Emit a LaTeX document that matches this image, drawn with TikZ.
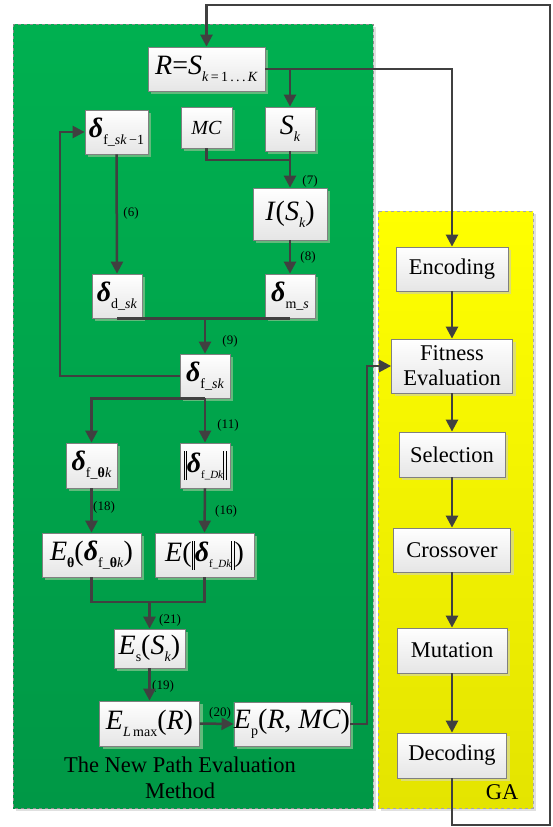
\documentclass[tikz,border=0pt]{standalone}
\usepackage{fontspec}
\setmainfont{Liberation Serif}
\usetikzlibrary{arrows.meta,shadows,calc}
\definecolor{gtop}{RGB}{0,176,80}
\definecolor{gbot}{RGB}{0,152,70}
\definecolor{ytop}{RGB}{255,255,0}
\definecolor{ybot}{RGB}{228,228,0}
\definecolor{gshad}{RGB}{98,186,124}
\definecolor{yshad}{RGB}{222,222,110}
\definecolor{lc}{RGB}{64,64,64}
\newcommand\fm{\fontsize{28}{30}\selectfont}
\newcommand\tx{\fontsize{22.5}{26}\selectfont}
\newcommand\sbx[1]{\raisebox{-7pt}{\fontsize{14}{14}\selectfont #1}}
\newcommand\ssbx[1]{\raisebox{-6pt}{\fontsize{11}{11}\selectfont #1}}
\newcommand\dlt{\textbf{\textit{δ}}}
\newcommand\nb{\rule[-8pt]{0.8pt}{29pt}\hspace{1.6pt}\rule[-8pt]{0.8pt}{29pt}}
\tikzset{
  box/.style={draw=black!50, line width=0.8pt, top color=white, bottom color=black!10, inner sep=0pt},
  gbox/.style={box, font=\fm, drop shadow={shadow xshift=3pt, shadow yshift=-3pt, fill=gshad, opacity=1}},
  ybox/.style={box, font=\tx, align=center, drop shadow={shadow xshift=3pt, shadow yshift=-3pt, fill=yshad, opacity=1}},
  conn/.style={draw=lc, line width=2.5pt},
  arr/.style={conn, -{Triangle[length=12pt,width=12pt]}},
  lab/.style={font=\fontsize{13}{13}\selectfont, inner sep=0pt},
}
\begin{document}
\begin{tikzpicture}[x=1pt,y=-1pt]
\useasboundingbox (0,0) rectangle (553,827);
% panels
\fill[black!12] (16,27) rectangle (376,811);
\shade[top color=gtop, bottom color=gbot, draw=black!45, dashed, line width=0.7pt] (13,24) rectangle (373,808);
\fill[black!12] (381,214) rectangle (536,811);
\shade[top color=ytop, bottom color=ybot, draw=black!35, dashed, line width=0.7pt] (378,211) rectangle (533,808);
% green nodes
\node[gbox, minimum width=117pt, minimum height=44pt] (R) at (206.5,69) {\textit{R}=\textit{S}\sbx{\textit{k}\,=\,1\,.\,.\,.\,\textit{K}}};
\node[gbox, minimum width=63pt, minimum height=44pt] (d1) at (116.5,132) {\dlt\sbx{f\_\textit{sk}\,−1}};
\node[gbox, font=\fontsize{20}{22}\selectfont, minimum width=51pt, minimum height=41pt] (MC) at (206.5,127.5) {\textit{MC}};
\node[gbox, minimum width=50pt, minimum height=44pt] (Sk) at (290,129) {\textit{S}\sbx{\textit{k}}};
\node[gbox, minimum width=74pt, minimum height=52pt] (I) at (290,214) {\textit{I}(\textit{S}\sbx{\textit{k}})};
\node[gbox, minimum width=50pt, minimum height=44pt] (dd) at (117,296) {\dlt\sbx{d\_\textit{sk}}};
\node[gbox, minimum width=50pt, minimum height=44pt] (dm) at (290,296) {\dlt\sbx{m\_\textit{s}}};
\node[gbox, minimum width=50pt, minimum height=44pt] (dfs) at (205,376) {\dlt\sbx{f\_\textit{sk}}};
\node[gbox, minimum width=51pt, minimum height=45pt] (dth) at (91.5,465.5) {\dlt\sbx{f\_\textbf{θ}\textit{k}}};
\node[gbox, minimum width=50pt, minimum height=45pt] (dn) at (205,465.5) {\nb\dlt\ssbx{f\_\textit{Dk}}\nb};
\node[gbox, minimum width=99pt, minimum height=44pt] (Eth) at (91.5,555) {\textit{E}\sbx{\textbf{θ}}(\dlt\sbx{f\_\textbf{θ}\textit{k}})};
\node[gbox, minimum width=99pt, minimum height=44pt] (En) at (204.5,555) {\textit{E}(\nb\dlt\ssbx{f\_\textit{Dk}}\nb)};
\node[gbox, minimum width=71pt, minimum height=39pt] (Es) at (149.5,648.5) {\textit{E}\sbx{s}(\textit{S}\sbx{\textit{k}})};
\node[gbox, minimum width=100pt, minimum height=45pt] (EL) at (149.5,723.5) {\textit{E}\sbx{\textit{L}\,max}(\textit{R})};
\node[gbox, minimum width=100pt, minimum height=44pt] (Ep) at (292,724) {\textit{E}\sbx{p}(\textit{R}, \textit{MC})};
% GA nodes
\node[ybox, minimum width=112pt, minimum height=44pt] (Enc) at (452,269) {Encoding};
\node[ybox, minimum width=121pt, minimum height=54pt, font=\fontsize{22.5}{25}\selectfont] (Fit) at (452,366) {Fitness\\Evaluation};
\node[ybox, minimum width=106pt, minimum height=45pt] (Sel) at (452,454.5) {Selection};
\node[ybox, minimum width=117pt, minimum height=44pt] (Cro) at (452,550) {Crossover};
\node[ybox, minimum width=110pt, minimum height=45pt] (Mut) at (452,650.5) {Mutation};
\node[ybox, minimum width=109pt, minimum height=45pt] (Dec) at (452,755.5) {Decoding};
% texts
\node[font=\tx, align=center, inner sep=0pt] (title) at (180,778) {The New Path Evaluation\\Method};
\node[font=\tx, inner sep=0pt] (ga) at (502,792) {GA};
\node[lab] (l6) at (131,213) {(6)};
\node[lab] (l7) at (310,181) {(7)};
\node[lab] (l8) at (308,257) {(8)};
\node[lab] (l9) at (230,341) {(9)};
\node[lab] (l11) at (228,425) {(11)};
\node[lab] (l18) at (104,507) {(18)};
\node[lab] (l16) at (226,511) {(16)};
\node[lab] (l21) at (170,620) {(21)};
\node[lab] (l19) at (163,686) {(19)};
\node[lab] (l20) at (220,713) {(20)};
% coordinates
\coordinate (mj) at (290,160);
\coordinate (em) at (149.5,602);
\coordinate (c1) at (550,825);
\coordinate (c2) at (550,5);
\coordinate (fb) at (60,376);
\coordinate (ej) at (367,724);
% connectors
\draw[arr] (Dec.south) |- (c1) -- (c2) -| (R.north);
\draw[arr] (R.east) -| (Enc.north);
\draw[arr] (R.east -| Sk.north) -- (Sk.north);
\draw[conn] (MC.south) |- (mj);
\draw[arr] (Sk.south) -- (I.north);
\draw[arr] (I.south) -- (dm.north);
\draw[arr] (d1.south) -- (dd.north);
\draw[conn] (dd.south) -- (dm.south);
\draw[arr] (dd.south -| dfs.north) -- (dfs.north);
\draw[arr] (dfs.west) -- (fb) |- (d1.west);
\draw[arr] (dfs.south) -- (dn.north);
\draw[arr] (dfs.south) -| (dth.north);
\draw[arr] (dth.south) -- (Eth.north);
\draw[arr] (dn.south) -- (En.north);
\draw[conn] (Eth.south) |- (em);
\draw[conn] (En.south) |- (em);
\draw[arr] (em) -- (Es.north);
\draw[arr] (Es.south) -- (EL.north);
\draw[arr] (EL.east) -- (Ep.west);
\draw[arr] (Ep.east) -- (ej) |- (Fit.west);
\draw[arr] (Enc.south) -- (Fit.north);
\draw[arr] (Fit.south) -- (Sel.north);
\draw[arr] (Sel.south) -- (Cro.north);
\draw[arr] (Cro.south) -- (Mut.north);
\draw[arr] (Mut.south) -- (Dec.north);
\end{tikzpicture}
\end{document}
